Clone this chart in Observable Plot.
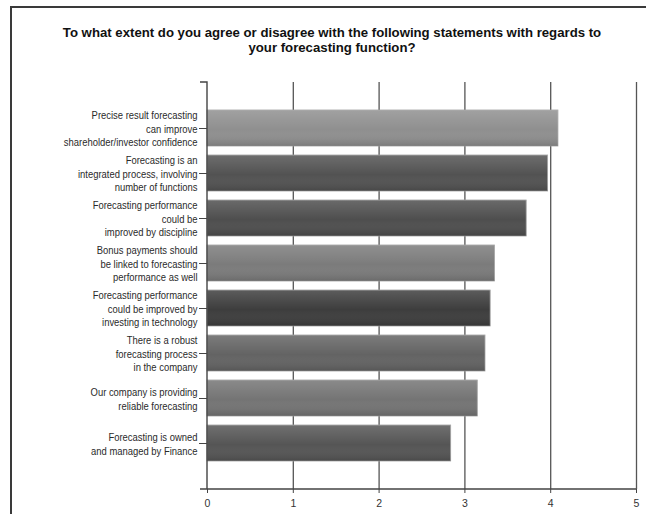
<!DOCTYPE html>
<html><head><meta charset="utf-8">
<script src="https://cdn.jsdelivr.net/npm/d3@7"></script>
<script src="https://cdn.jsdelivr.net/npm/@observablehq/plot@0.6"></script>
<style>
html,body{margin:0;padding:0;background:#fff;overflow:hidden}
#wrap{position:relative;width:646px;height:514px;overflow:hidden}
#border{position:absolute;left:10px;top:6px;width:700px;height:600px;border-top:2px solid #3a3a3a;border-left:2px solid #3a3a3a}
#title{position:absolute;left:9px;top:26px;width:646px;text-align:center;font:bold 13.2px/14.5px "Liberation Sans",Arial,sans-serif;color:#111}
#chart{position:absolute;left:0;top:60px}
</style></head><body>
<div id="wrap"><div id="border"></div><div id="title"></div><div id="chart"></div></div>
<script>
// ---- data ----
const titleLines = [
  "To what extent do you agree or disagree with the following statements with regards to",
  "your forecasting function?"
];
const statements = [
  "Precise result forecasting\ncan improve\nshareholder/investor confidence",
  "Forecasting is an\nintegrated process, involving\nnumber of functions",
  "Forecasting performance\ncould be\nimproved by discipline",
  "Bonus payments should\nbe linked to forecasting\nperformance as well",
  "Forecasting performance\ncould be improved by\ninvesting in technology",
  "There is a robust\nforecasting process\nin the company",
  "Our company is providing\nreliable forecasting",
  "Forecasting is owned\nand managed by Finance"
];
const scores = [4.09, 3.97, 3.72, 3.35, 3.30, 3.24, 3.15, 2.84];
const xTicks = [0, 1, 2, 3, 4, 5];
const gridTicks = [1, 2, 3, 4, 5];

// ---- styles ----
const barShades = ["#8f8f8f", "#525252", "#4e4e4e", "#7b7b7b", "#3d3d3d", "#636363", "#747474", "#555555"];
const font = '"Liberation Sans",Arial,sans-serif';

document.getElementById("title").innerHTML = titleLines.join("<br>");

const data = statements.map((s, i) => ({statement: s, score: scores[i], shade: barShades[i]}));

const defsMark = () => {
  const g = d3.create("svg:g");
  const lg = g.append("defs").append("linearGradient")
    .attr("id", "shine").attr("x1", 0).attr("y1", 0).attr("x2", 0).attr("y2", 1);
  lg.append("stop").attr("offset", "0%").attr("stop-color", "#fff").attr("stop-opacity", 0.16);
  lg.append("stop").attr("offset", "55%").attr("stop-color", "#fff").attr("stop-opacity", 0.0);
  lg.append("stop").attr("offset", "100%").attr("stop-color", "#000").attr("stop-opacity", 0.14);
  return g.node();
};

const axisLines = (index, scales, values, dims) => {
  const x0 = scales.x(0), x5 = scales.x(5);
  const top = dims.marginTop, bot = dims.height - dims.marginBottom;
  const g = d3.create("svg:g").attr("fill", "none").attr("stroke", "#444").attr("stroke-width", 1.4);
  g.append("path").attr("d", `M${x0 - 7},${top}H${x0}V${bot}M${x0 - 7},${bot}H${x5}`);
  return g.node();
};

const chart = Plot.plot({
  width: 646,
  height: 454,
  marginTop: 22,
  marginBottom: 25,
  marginLeft: 207,
  marginRight: 10,
  style: {fontFamily: font, fontSize: "10.5px", color: "#333", background: "transparent"},
  x: {domain: [0, 5], label: null},
  y: {domain: statements, range: [44.5, 407.4], paddingInner: 0.2, paddingOuter: 0.1, label: null},
  color: {type: "identity"},
  marks: [
    defsMark,
    Plot.ruleX(gridTicks, {stroke: "#555", strokeWidth: 1.3}),
    Plot.barX(data, {x: "score", y: "statement", fill: "shade", stroke: "#a0a0a0", strokeWidth: 0.8}),
    Plot.barX(data, {x: "score", y: "statement", fill: "url(#shine)"}),
    Plot.axisY({tickSize: 8, tickPadding: 2, lineHeight: 1.28, fontSize: 10.5, stroke: "#444", fill: "#2a2a2a"}),
    Plot.axisX({ticks: xTicks, tickSize: 4, tickPadding: 6, tickFormat: d => d, fontSize: 10.5, stroke: "#444", fill: "#333"}),
    axisLines
  ]
});
// condense the statement labels horizontally (the source uses a narrow face)
chart.querySelectorAll('g[aria-label="y-axis tick label"] > text').forEach(t => {
  const tr = t.getAttribute("transform") || "";
  t.setAttribute("transform", tr + " scale(0.9,1)");
});
document.getElementById("chart").appendChild(chart);
</script>
</body></html>
